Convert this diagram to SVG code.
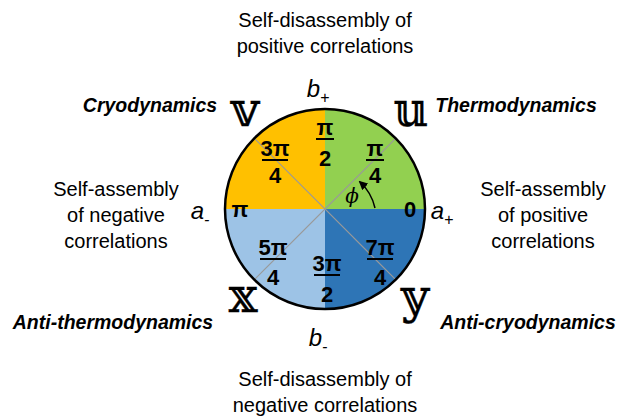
<svg xmlns="http://www.w3.org/2000/svg" width="619" height="419" viewBox="0 0 619 419">
<style>
.t{font-family:"Liberation Sans",Arial,sans-serif;font-size:20px;fill:#000;text-anchor:middle}
.bi{font-family:"Liberation Sans",Arial,sans-serif;font-size:19.5px;font-weight:bold;font-style:italic;fill:#000;text-anchor:middle}
.f{font-family:"Liberation Sans",Arial,sans-serif;font-size:22px;font-weight:bold;fill:#000;text-anchor:middle}
.ax{font-family:"Liberation Sans",Arial,sans-serif;font-size:24px;font-style:italic;fill:#000;text-anchor:middle}
.ds{font-family:"DejaVu Serif","DejaVu Sans",serif;font-size:48px;fill:#000;stroke:#000;stroke-width:0.3;text-anchor:middle}
.bar{stroke:#000;stroke-width:2}
.diag{stroke:#999;stroke-width:1.2}
</style>
<defs>
<marker id="ah" viewBox="0 0 10 10" refX="8" refY="5" markerWidth="6" markerHeight="6" orient="auto"><path d="M0,0 L10,5 L0,10 z" fill="#000"/></marker>
</defs>
<g id="wheel">
<path d="M325,209 L325,109 A100,100 0 0 1 425,209 Z" fill="#92D050"/>
<path d="M325,209 L325,109 A100,100 0 0 0 225,209 Z" fill="#FFC000"/>
<path d="M325,209 L225,209 A100,100 0 0 0 325,309 Z" fill="#9DC3E6"/>
<path d="M325,209 L325,309 A100,100 0 0 0 425,209 Z" fill="#2E75B6"/>
<line class="diag" x1="254.3" y1="138.3" x2="395.7" y2="279.7"/>
<line class="diag" x1="254.3" y1="279.7" x2="395.7" y2="138.3"/>
<circle cx="325" cy="209" r="100" fill="none" stroke="#000" stroke-width="2.5"/>
</g>
<g id="connectors">
<path d="M375,208 A50,50 0 0 0 360,182" fill="none" stroke="#000" stroke-width="1.5" marker-end="url(#ah)"/>
</g>
<g id="fractions">
<text class="f" x="325" y="135">π</text><line class="bar" x1="316" y1="139" x2="334" y2="139"/><text class="f" x="325" y="166">2</text>
<text class="f" x="275" y="156">3π</text><line class="bar" x1="262" y1="160" x2="288" y2="160"/><text class="f" x="275" y="183">4</text>
<text class="f" x="375" y="156">π</text><line class="bar" x1="366" y1="160" x2="384" y2="160"/><text class="f" x="375" y="183">4</text>
<text class="f" x="240" y="217">π</text>
<text class="f" x="410" y="217">0</text>
<text class="f" x="273" y="255">5π</text><line class="bar" x1="260" y1="259" x2="286" y2="259"/><text class="f" x="273" y="285">4</text>
<text class="f" x="327" y="271">3π</text><line class="bar" x1="314" y1="275" x2="340" y2="275"/><text class="f" x="327" y="302">2</text>
<text class="f" x="380" y="255">7π</text><line class="bar" x1="367" y1="259" x2="393" y2="259"/><text class="f" x="380" y="285">4</text>
<text x="352" y="203" style="font-family:'DejaVu Serif',serif;font-size:20px;font-style:italic;text-anchor:middle">ϕ</text>
</g>
<g id="axes">
<text class="ax" x="318" y="97">b<tspan font-size="16" dy="6">+</tspan></text>
<text class="ax" x="318" y="346">b<tspan font-size="16" dy="6">-</tspan></text>
<text class="ax" x="200" y="219">a<tspan font-size="16" dy="6">-</tspan></text>
<text class="ax" x="442" y="219">a<tspan font-size="16" dy="6">+</tspan></text>
</g>
<g id="quadrant-symbols">
<text class="ds" x="245" y="126">𝕧</text>
<text class="ds" x="411" y="126">𝕦</text>
<text class="ds" x="243" y="312">𝕩</text>
<text class="ds" x="415" y="313">𝕪</text>
</g>
<g id="labels">
<text class="t" x="325" y="27">Self-disassembly of</text>
<text class="t" x="325" y="53">positive correlations</text>
<text class="t" x="325" y="386">Self-disassembly of</text>
<text class="t" x="325" y="412">negative correlations</text>
<text class="t" x="116" y="196">Self-assembly</text>
<text class="t" x="116" y="222">of negative</text>
<text class="t" x="116" y="248">correlations</text>
<text class="t" x="543" y="196">Self-assembly</text>
<text class="t" x="543" y="222">of positive</text>
<text class="t" x="543" y="248">correlations</text>
<text class="bi" x="150" y="112">Cryodynamics</text>
<text class="bi" x="516" y="112">Thermodynamics</text>
<text class="bi" x="113" y="329">Anti-thermodynamics</text>
<text class="bi" x="528" y="329">Anti-cryodynamics</text>
</g>
</svg>
